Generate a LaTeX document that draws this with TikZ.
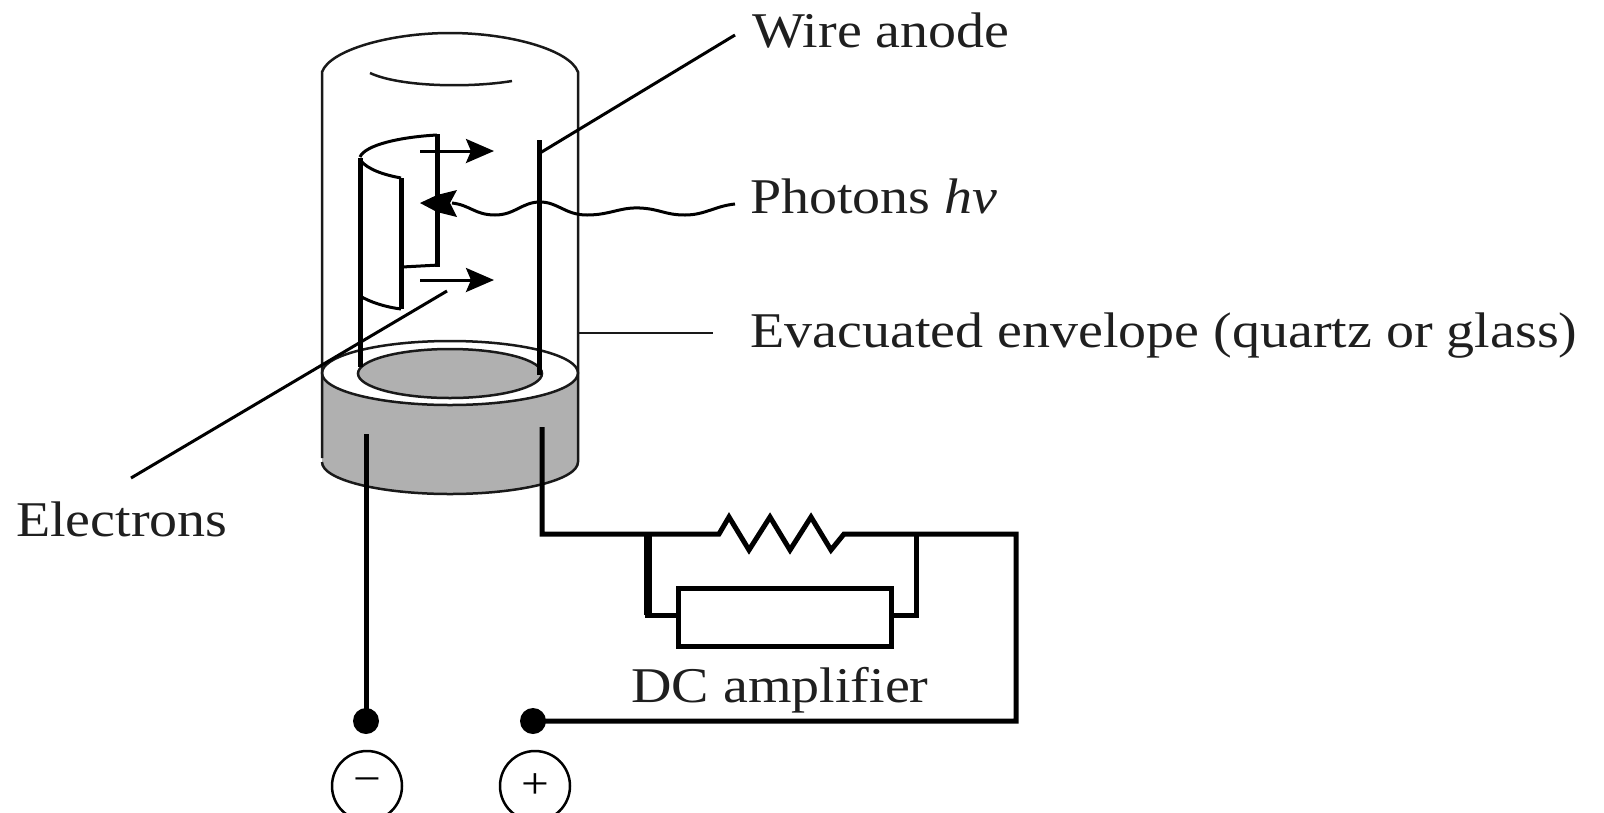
\documentclass[tikz,border=0pt]{standalone}
\usepackage{fontspec}
\setmainfont[FakeStretch=1.12]{Liberation Serif}
\usetikzlibrary{arrows.meta}
\definecolor{basegray}{HTML}{B0B0B0}
\tikzset{
  thinline/.style={line width=2.5pt,draw=black!90},
  midline/.style={line width=3pt,draw=black},
  heavyline/.style={line width=5pt,draw=black},
  label/.style={font=\fontsize{50}{50}\selectfont,anchor=base west,inner sep=0pt,text=black!88},
  electronarrow/.style={line width=3pt,-{Stealth[length=28pt,width=24pt,inset=5pt]}},
  termdot/.style={circle,fill=black,minimum size=26pt,inner sep=0pt},
  termsign/.style={circle,draw=black,line width=2.5pt,minimum size=70pt,inner sep=0pt,font=\fontsize{44}{44}\selectfont},
  ampbox/.style={draw=black,line width=5pt,fill=white,inner sep=0pt,minimum width=213pt,minimum height=58pt}
}
\begin{document}
\begin{tikzpicture}[x=1pt,y=-1pt,line join=miter]
\useasboundingbox (0,0) rectangle (1604,812);
\clip (0,0) rectangle (1604,812);
% base
\fill[basegray] (322,373) -- (322,462) arc[start angle=180,end angle=0,x radius=128,y radius=32] -- (578,373) -- cycle;
\draw[thinline,fill=white] (450,373) ellipse[x radius=128,y radius=32];
\draw[thinline,fill=basegray] (450,373.5) ellipse[x radius=92,y radius=24.5];
\draw[thinline] (322,462) arc[start angle=180,end angle=0,x radius=128,y radius=32];
% envelope
\draw[thinline] (322,458) -- (322,72) .. controls (330,50) and (390,33) .. (450,33) .. controls (510,33) and (570,50) .. (578,72) -- (578,462);
\draw[thinline] (370,73) .. controls (400,87) and (470,88) .. (512,81);
% cathode
\draw[heavyline] (360,158) -- (360,367);
\draw[midline] (360,157) .. controls (365,145) and (400,137) .. (437,135);
\draw[heavyline] (437,134) -- (437,267);
\draw[midline] (402,267) -- (439,265);
\draw[heavyline] (401,178) -- (401,309);
\draw[midline] (360,160) .. controls (368,170) and (385,175) .. (401,178);
\draw[midline] (360,296) .. controls (370,302) and (385,307) .. (401,309);
% electrons arrows
\coordinate (e1a) at (420,151); \coordinate (e1b) at (494,151);
\coordinate (e2a) at (420,280); \coordinate (e2b) at (494,280);
\draw[electronarrow] (e1a) -- (e1b);
\draw[electronarrow] (e2a) -- (e2b);
% anode
\coordinate (anodetop) at (539,140);
\coordinate (anodebot) at (539,375);
\draw[heavyline] (anodetop) -- (anodebot);
% photons
\coordinate (photonend) at (735,204);
\draw[midline] (452,203) .. controls (470,205) and (475,215) .. (495,215) .. controls (515,215) and (522,202) .. (540,202) .. controls (558,202) and (565,215) .. (587,215) .. controls (610,215) and (620,207) .. (640,208) .. controls (660,209) and (665,215) .. (685,215) .. controls (705,215) and (715,206) .. (photonend);
\fill[black] (420,203) -- (437,195) -- (457,190) -- (450,203) -- (457,217) -- (437,212) -- cycle;
% pointers
\coordinate (wirelabel) at (735,35);
\coordinate (wirefoot) at (540,153);
\draw[midline] (wirefoot) -- (wirelabel);
\coordinate (envlead) at (713,333);
\coordinate (envfoot) at (578,333);
\draw[thinline] (envfoot) -- (envlead);
\coordinate (elhead) at (447,291);
\coordinate (eltail) at (131,478);
\draw[midline] (elhead) -- (eltail);
% circuit
\node[ampbox] (amp) at (784.5,617) {};
\node[termdot] (dotminus) at (366,721) {};
\node[termdot] (dotplus) at (533,721) {};
\node[termsign] (minus) at (367,786) {−};
\node[termsign] (plus) at (535,786) {+};
\coordinate (leadleft) at (366,434);
\coordinate (leadright) at (542,427);
\coordinate (corner1) at (542,534);
\coordinate (corner2) at (1016,534);
\coordinate (corner3) at (1016,721);
\draw[heavyline] (leadleft) -- (dotminus.center);
\draw[heavyline] (leadright) -- (corner1) -- (719,534) -- (729,517) -- (749,550) -- (770,517) -- (790,550) -- (811,517) -- (831,550) -- (844,534) -- (corner2) -- (corner3) -- (dotplus.center);
\draw[line width=8pt] (648,534) -- (648,615);
\draw[heavyline] (645,615) -- (amp.west |- 0,615);
\draw[heavyline] (916,534) -- (916,615) -- (amp.east |- 0,615);
% labels
\node[label] (wire) at (752,47) {Wire anode};
\node[label] (photons) at (750,213) {Photons \textit{hv}};
\node[label] (evac) at (750,347) {Evacuated envelope (quartz or glass)};
\node[label] (electrons) at (16,536) {Electrons};
\node[label,anchor=base] (dc) at (780,702) {DC amplifier};
\end{tikzpicture}
\end{document}
